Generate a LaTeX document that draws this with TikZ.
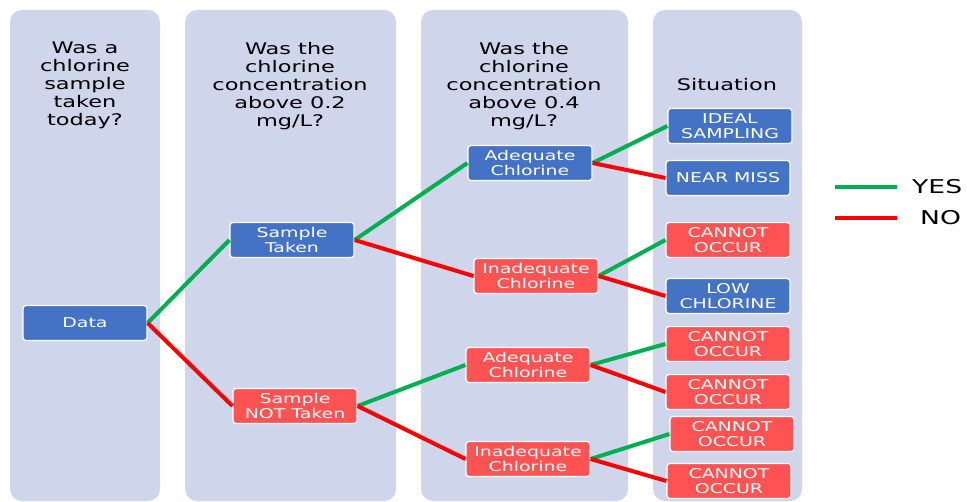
\documentclass[tikz,border=0pt]{standalone}
\usepackage{fontspec}
\newfontfamily\wideface[FakeStretch=1.4]{DejaVu Sans}
\definecolor{lane}{HTML}{CFD5EA}
\definecolor{boxblue}{HTML}{4472C4}
\definecolor{boxred}{HTML}{FF5353}
\definecolor{yesline}{HTML}{00B050}
\definecolor{noline}{HTML}{FF0000}
\tikzset{
  lanebg/.style={fill=lane, rounded corners=12pt},
  heading/.style={font=\wideface\fontsize{16}{18}\selectfont, align=center, anchor=north, inner sep=0pt},
  box/.style={draw=white, line width=1.2pt, rounded corners=3pt, minimum width=124pt,
    minimum height=35pt, inner sep=0pt, align=center, text=white,
    font=\wideface\fontsize{13.5}{14.5}\selectfont},
  bluebox/.style={box, fill=boxblue},
  redbox/.style={box, fill=boxred},
  yes/.style={draw=yesline, line width=4pt},
  no/.style={draw=noline, line width=4pt},
  legendtext/.style={font=\wideface\fontsize{19}{20}\selectfont, anchor=west, inner sep=0pt},
}
\begin{document}
\begin{tikzpicture}[x=1pt, y=-1pt]
\useasboundingbox (0,0) rectangle (967,502);
\fill[white] (0,0) rectangle (967,502);

% lanes
\fill[lanebg] (10,10) rectangle (160,501);
\fill[lanebg] (185,10) rectangle (396,501);
\fill[lanebg] (421,10) rectangle (628,501);
\fill[lanebg] (653,10) rectangle (802,501);

% lane headings
\node[heading] (h1) at (85,42) {Was a\\chlorine\\sample\\taken\\today?};
\node[heading] (h2) at (290,42) {Was the\\chlorine\\concentration\\above 0.2\\mg/L?};
\node[heading] (h3) at (524,42) {Was the\\chlorine\\concentration\\above 0.4\\mg/L?};
\node[heading] (h4) at (727,78) {Situation};

% decision nodes
\node[bluebox] (data) at (85,323) {Data};
\node[bluebox] (taken) at (292,240) {Sample\\Taken};
\node[redbox] (nottaken) at (295,406) {Sample\\NOT Taken};
\node[bluebox] (adq1) at (530,163) {Adequate\\Chlorine};
\node[redbox] (inadq1) at (536,276) {Inadequate\\Chlorine};
\node[redbox] (adq2) at (528,365) {Adequate\\Chlorine};
\node[redbox] (inadq2) at (528,459) {Inadequate\\Chlorine};

% outcomes
\node[bluebox] (ideal) at (730,126) {IDEAL\\SAMPLING};
\node[bluebox] (near) at (728,178) {NEAR MISS};
\node[redbox] (co1) at (728,240) {CANNOT\\OCCUR};
\node[bluebox] (low) at (728,296) {LOW\\CHLORINE};
\node[redbox] (co2) at (728,344) {CANNOT\\OCCUR};
\node[redbox] (co3) at (728,392) {CANNOT\\OCCUR};
\node[redbox] (co4) at (732,434) {CANNOT\\OCCUR};
\node[redbox] (co5) at (729,481) {CANNOT\\OCCUR};

% branches
\draw[yes] (data.east) -- (taken.west);
\draw[no]  (data.east) -- (nottaken.west);
\draw[yes] (taken.east) -- (adq1.west);
\draw[no]  (taken.east) -- (inadq1.west);
\draw[yes] (nottaken.east) -- (adq2.west);
\draw[no]  (nottaken.east) -- (inadq2.west);
\draw[yes] (adq1.east) -- (ideal.west);
\draw[no]  (adq1.east) -- (near.west);
\draw[yes] (inadq1.east) -- (co1.west);
\draw[no]  (inadq1.east) -- (low.west);
\draw[yes] (adq2.east) -- (co2.west);
\draw[no]  (adq2.east) -- (co3.west);
\draw[yes] (inadq2.east) -- (co4.west);
\draw[no]  (inadq2.east) -- (co5.west);

% legend
\coordinate (ya) at (835,187);
\coordinate (yb) at (897,187);
\coordinate (na) at (835,218);
\coordinate (nb) at (897,218);
\draw[yes] (ya) -- (yb);
\draw[no] (na) -- (nb);
\node[legendtext] (yeslabel) at (912,187) {YES};
\node[legendtext] (nolabel) at (920,218) {NO};
\end{tikzpicture}
\end{document}
